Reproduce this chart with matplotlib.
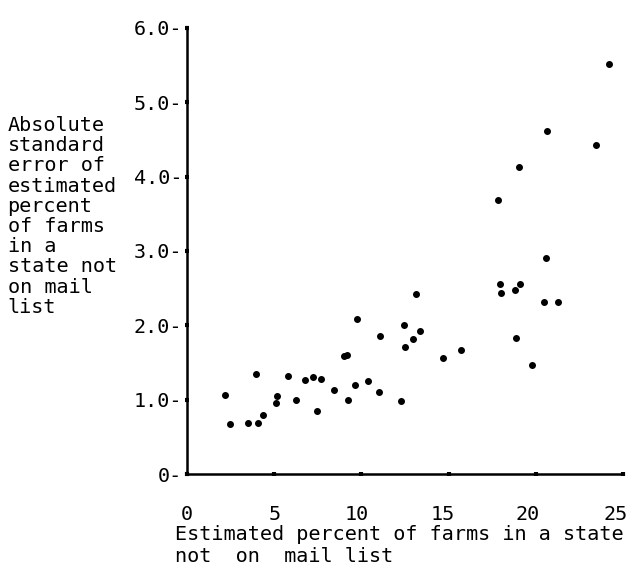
import matplotlib
matplotlib.use("Agg")
import matplotlib.pyplot as plt
from matplotlib.transforms import ScaledTranslation

# Estimated percent of farms not on mail list, by state
pct_not_on_list = [2.17, 2.43, 3.49, 4.06, 4.33, 3.97, 5.08, 5.15, 5.77, 6.24,
                   6.78, 7.22, 7.43, 7.70, 8.41, 8.98, 9.14, 9.21, 9.65, 9.73,
                   10.40, 10.99, 11.07, 12.26, 12.47, 12.52, 12.98, 13.15, 13.37, 14.69,
                   15.74, 17.85, 17.98, 18.00, 18.84, 18.86, 19.05, 19.11, 19.80, 20.47,
                   20.59, 20.68, 21.29, 23.49, 24.20]
# Absolute standard error of that estimate
abs_std_error = [1.06, 0.67, 0.69, 0.69, 0.80, 1.34, 0.96, 1.05, 1.32, 0.99,
                 1.26, 1.31, 0.85, 1.28, 1.13, 1.59, 1.60, 1.00, 1.20, 2.08,
                 1.25, 1.10, 1.86, 0.98, 2.00, 1.71, 1.81, 2.42, 1.92, 1.56,
                 1.67, 3.68, 2.56, 2.43, 2.47, 1.83, 4.13, 2.55, 1.46, 2.31,
                 2.91, 4.61, 2.31, 4.42, 5.52]

x_ticks = [0, 5, 10, 15, 20, 25]
y_ticks = [0, 1, 2, 3, 4, 5, 6]
y_tick_labels = ["0-", "1.0-", "2.0-", "3.0-", "4.0-", "5.0-", "6.0-"]

plt.rcParams["font.family"] = "DejaVu Sans Mono"
fs = 14.5

fig = plt.figure(figsize=(6.32, 5.77), dpi=100)
ax = fig.add_axes([0.2964, 0.1785, 0.6889, 0.773])

ax.scatter(pct_not_on_list, abs_std_error, s=16, color="black", zorder=3)

ax.set_xlim(0, 25)
ax.set_ylim(0, 6)
ax.spines["top"].set_visible(False)
ax.spines["right"].set_visible(False)
ax.spines["left"].set_linewidth(1.8)
ax.spines["bottom"].set_linewidth(1.8)

ax.set_xticks(x_ticks)
ax.set_xticklabels([str(t) for t in x_ticks], fontsize=fs)
ax.set_yticks(y_ticks)
ax.set_yticklabels(y_tick_labels, fontsize=fs)
ax.tick_params(axis="x", direction="inout", length=3, width=3, pad=21)
ax.tick_params(axis="y", direction="inout", length=3, width=3, pad=2)

# the typed x labels sit a little left of their tick marks
x_shift_px = [-1, 0, -5, -6, -8, -7]
for lab, dx in zip(ax.get_xticklabels(), x_shift_px):
    lab.set_transform(lab.get_transform() + ScaledTranslation(dx / 100, 0, fig.dpi_scale_trans))

fig.text(0.012, 1 - 116 / 577,
         "Absolute\nstandard\nerror of\nestimated\npercent\nof farms\nin a\nstate not\non mail\nlist",
         ha="left", va="top", fontsize=fs, linespacing=1.08)

fig.text(175 / 632, 1 - 525 / 577,
         "Estimated percent of farms in a state\nnot  on  mail list",
         ha="left", va="top", fontsize=fs, linespacing=1.2)

fig.savefig("out.png", dpi=100)
